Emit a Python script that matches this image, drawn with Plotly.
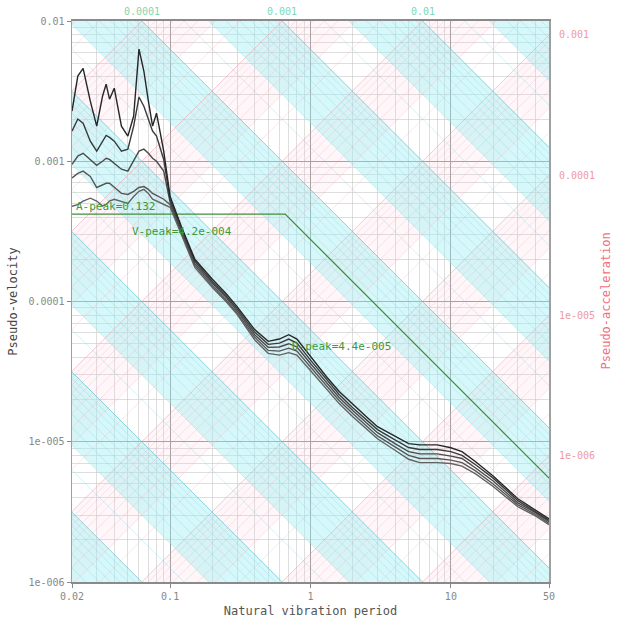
import numpy as np
import plotly.graph_objects as go

# ---------------- data ----------------
periods = [0.02, 0.022, 0.024, 0.027, 0.03, 0.033, 0.035, 0.037, 0.04, 0.045, 0.05, 0.055, 0.06, 0.065,
           0.07, 0.075, 0.08, 0.09, 0.1,
           0.12, 0.15, 0.2, 0.25, 0.3, 0.4, 0.5, 0.6, 0.7, 0.8, 1, 1.3, 1.6, 2, 2.5, 3, 4, 5, 6, 7, 8,
           10, 12, 15, 20, 30, 40, 50]

psv_1 = [2.28e-3, 4.05e-3, 4.6e-3, 2.68e-3, 1.78e-3, 2.91e-3, 3.55e-3, 2.77e-3, 3.32e-3, 1.78e-3, 1.51e-3,
         2.1e-3, 6.3e-3, 4.4e-3, 2.68e-3, 1.78e-3, 2.2e-3, 1.18e-3, 5.6e-4,
         3.44e-4, 2.0e-4, 1.44e-4, 1.14e-4, 9.2e-5, 6.3e-5, 5.2e-5, 5.4e-5, 5.8e-5, 5.4e-5, 4.05e-5, 2.91e-5,
         2.28e-5, 1.84e-5, 1.51e-5, 1.28e-5, 1.09e-5, 9.7e-6, 9.5e-6, 9.5e-6, 9.5e-6, 9.06e-6, 8.5e-6, 7.2e-6,
         5.7e-6, 3.92e-6, 3.27e-6, 2.82e-6]
psv_2 = [1.64e-3, 2.0e-3, 1.87e-3, 1.39e-3, 1.18e-3, 1.39e-3, 1.53e-3, 1.48e-3, 1.39e-3, 1.18e-3, 1.22e-3,
         1.78e-3, 2.87e-3, 2.47e-3, 2.03e-3, 1.64e-3, 1.51e-3, 1.03e-3, 5.3e-4,
         3.33e-4, 1.94e-4, 1.39e-4, 1.10e-4, 8.9e-5, 6.05e-5, 4.95e-5, 5.05e-5, 5.39e-5, 5.05e-5, 3.82e-5,
         2.77e-5, 2.17e-5, 1.75e-5, 1.44e-5, 1.22e-5, 1.03e-5, 9.1e-6, 8.8e-6, 8.8e-6, 8.8e-6, 8.5e-6, 8.0e-6,
         6.85e-6, 5.5e-6, 3.8e-6, 3.19e-6, 2.75e-6]
psv_3 = [9.5e-4, 1.09e-3, 1.14e-3, 1.03e-3, 9.36e-4, 1.0e-3, 1.05e-3, 1.03e-3, 9.7e-4, 8.77e-4, 8.5e-4,
         1.0e-3, 1.18e-3, 1.22e-3, 1.14e-3, 1.05e-3, 1.0e-3, 8.5e-4, 5.1e-4,
         3.22e-4, 1.87e-4, 1.35e-4, 1.07e-4, 8.6e-5, 5.8e-5, 4.71e-5, 4.74e-5, 5.0e-5, 4.74e-5, 3.61e-5,
         2.64e-5, 2.07e-5, 1.67e-5, 1.37e-5, 1.16e-5, 9.7e-6, 8.5e-6, 8.2e-6, 8.2e-6, 8.2e-6, 7.9e-6, 7.6e-6,
         6.5e-6, 5.25e-6, 3.67e-6, 3.12e-6, 2.69e-6]
psv_4 = [7.6e-4, 8.2e-4, 8.5e-4, 7.8e-4, 6.5e-4, 6.74e-4, 6.97e-4, 6.97e-4, 6.5e-4, 5.9e-4, 5.8e-4,
         6.1e-4, 6.5e-4, 6.6e-4, 6.3e-4, 5.9e-4, 5.7e-4, 5.36e-4, 4.9e-4,
         3.12e-4, 1.81e-4, 1.30e-4, 1.03e-4, 8.3e-5, 5.57e-5, 4.48e-5, 4.43e-5, 4.65e-5, 4.43e-5, 3.41e-5,
         2.51e-5, 1.97e-5, 1.59e-5, 1.30e-5, 1.10e-5, 9.2e-6, 8.0e-6, 7.6e-6, 7.6e-6, 7.6e-6, 7.4e-6, 7.1e-6,
         6.2e-6, 5.0e-6, 3.55e-6, 3.04e-6, 2.62e-6]
psv_5 = [4.77e-4, 4.9e-4, 5.2e-4, 5.45e-4, 5.2e-4, 4.8e-4, 4.9e-4, 5.2e-4, 5.36e-4, 5.2e-4, 5.0e-4,
         5.6e-4, 6.1e-4, 6.3e-4, 5.9e-4, 5.36e-4, 5.2e-4, 4.9e-4, 4.7e-4,
         3.02e-4, 1.75e-4, 1.26e-4, 1.0e-4, 8.1e-5, 5.34e-5, 4.27e-5, 4.15e-5, 4.32e-5, 4.15e-5, 3.22e-5,
         2.39e-5, 1.87e-5, 1.51e-5, 1.24e-5, 1.05e-5, 8.7e-6, 7.5e-6, 7.1e-6, 7.1e-6, 7.1e-6, 7.0e-6, 6.7e-6,
         5.9e-6, 4.8e-6, 3.44e-6, 2.96e-6, 2.56e-6]
curves = [psv_1, psv_2, psv_3, psv_4, psv_5]
curve_colors = ["#262626", "#3a3a3a", "#4a4a4a", "#575757", "#626262"]

# design (peak) envelope
env_T = [0.02, 0.66, 50]
env_V = [4.2e-4, 4.2e-4, 5.5e-6]
env_labels = ["A-peak=0.132", "V-peak=4.2e-004", "D-peak=4.4e-005"]
env_label_T = [0.0205, 0.052, 0.72]
env_label_V = [4.75e-4, 3.16e-4, 4.8e-5]

x_ticks = [0.02, 0.1, 1, 10, 50]
x_ticktext = ["0.02", "0.1", "1", "10", "50"]
y_ticks = [1e-6, 1e-5, 1e-4, 1e-3, 1e-2]
y_ticktext = ["1e-006", "1e-005", "0.0001", "0.001", "0.01"]
disp_labels = [1e-4, 1e-3, 1e-2]          # displacement lines labelled at top
acc_labels = [1e-3, 1e-4, 1e-5, 1e-6]     # acceleration lines labelled at right
acc_ticktext = ["0.001", "0.0001", "1e-005", "1e-006"]

T_MIN, T_MAX = 0.02, 50
TWO_PI = 2 * np.pi
Tg = [0.003, 300]

fig = go.Figure()

# --------------- background bands ---------------
def band_xy(kind, lo, hi):
    xs, ys = [], []
    for T in Tg:
        xs.append(T); ys.append(TWO_PI * hi / T if kind == "D" else hi * T / TWO_PI)
    for T in Tg[::-1]:
        xs.append(T); ys.append(TWO_PI * lo / T if kind == "D" else lo * T / TWO_PI)
    xs.append(xs[0]); ys.append(ys[0])
    return xs, ys

bx, by = [], []
for n in range(-10, 2):
    xs, ys = band_xy("A", 0.3 * 10.0 ** n, 10.0 ** n)
    bx += xs + [None]; by += ys + [None]
fig.add_trace(go.Scatter(x=bx, y=by, fill="toself", mode="none",
                         fillcolor="rgba(250,200,210,0.16)", hoverinfo="skip", showlegend=False))
bx, by = [], []
for n in range(-10, 0):
    xs, ys = band_xy("D", 0.3 * 10.0 ** n, 10.0 ** n)
    bx += xs + [None]; by += ys + [None]
fig.add_trace(go.Scatter(x=bx, y=by, fill="toself", mode="none",
                         fillcolor="rgba(160,238,242,0.42)", hoverinfo="skip", showlegend=False))

# --------------- diagonal grid ---------------
def diag(kind, vals):
    xs, ys = [], []
    for v in vals:
        for T in Tg:
            xs.append(T); ys.append(TWO_PI * v / T if kind == "D" else v * T / TWO_PI)
        xs.append(None); ys.append(None)
    return xs, ys

minor_D = [k * 10.0 ** n for n in range(-10, 0) for k in range(2, 10)]
major_D = [10.0 ** n for n in range(-10, 0)]
minor_A = [k * 10.0 ** n for n in range(-10, 2) for k in range(2, 10)]
major_A = [10.0 ** n for n in range(-10, 2)]

for kind, vals, col, w in [("A", minor_A, "rgba(240,170,185,0.40)", 0.7),
                           ("D", minor_D, "rgba(110,205,215,0.40)", 0.7),
                           ("A", major_A, "rgba(235,160,175,0.55)", 1),
                           ("D", major_D, "rgba(90,190,200,0.65)", 1)]:
    xs, ys = diag(kind, vals)
    fig.add_trace(go.Scatter(x=xs, y=ys, mode="lines", line=dict(color=col, width=w),
                             hoverinfo="skip", showlegend=False))

# --------------- envelope ---------------
fig.add_trace(go.Scatter(x=env_T, y=env_V, mode="lines", line=dict(color="#3f8f3f", width=1.3),
                         showlegend=False))

# --------------- spectra ---------------
for vals, col in zip(curves[::-1], curve_colors[::-1]):
    fig.add_trace(go.Scatter(x=periods, y=vals, mode="lines", line=dict(color=col, width=1.4),
                             showlegend=False))

# --------------- annotations ---------------
ann = []
for txt, T, V in zip(env_labels, env_label_T, env_label_V):
    ann.append(dict(x=np.log10(T), y=np.log10(V), xref="x", yref="y", text=txt, showarrow=False,
                    xanchor="left", yanchor="middle",
                    font=dict(family="DejaVu Sans Mono", size=11, color="#3a9a3a")))
for D in disp_labels:
    ann.append(dict(x=np.log10(TWO_PI * D / 1e-2), y=1, xref="x", yref="paper", yshift=10,
                    text=("%g" % D), showarrow=False, xanchor="center", yanchor="middle",
                    font=dict(family="DejaVu Sans Mono", size=10, color="#7fd6b0")))
for A, txt in zip(acc_labels, acc_ticktext):
    ann.append(dict(x=1, y=np.log10(A * T_MAX / TWO_PI), xref="paper", yref="y", xshift=8,
                    text=txt, showarrow=False, xanchor="left", yanchor="middle",
                    font=dict(family="DejaVu Sans Mono", size=10, color="#f09aa0")))
ann.append(dict(x=1, y=0.5, xref="paper", yref="paper", xshift=56, text="Pseudo-acceleration",
                textangle=-90, showarrow=False, xanchor="center", yanchor="middle",
                font=dict(family="DejaVu Sans Mono", size=12, color="#f07080")))

minor_x = [k * 10.0 ** n for n in range(-2, 2) for k in range(2, 10) if T_MIN < k * 10.0 ** n < T_MAX]
minor_y = [k * 10.0 ** n for n in range(-6, -2) for k in range(2, 10)]

fig.update_layout(
    width=624, height=623,
    margin=dict(l=72, r=75, t=21, b=41, autoexpand=False),
    paper_bgcolor="white", plot_bgcolor="white",
    annotations=ann,
    xaxis=dict(type="log", range=[np.log10(T_MIN), np.log10(T_MAX)], automargin=False,
               tickvals=x_ticks, ticktext=x_ticktext,
               tickfont=dict(family="DejaVu Sans Mono", size=10, color="#888888"),
               ticks="outside", ticklen=4, tickcolor="#888888",
               showgrid=True, gridcolor="#9a9a9a", gridwidth=1,
               minor=dict(tickvals=minor_x, showgrid=True, gridcolor="rgba(190,190,190,0.5)", ticks=""),
               showline=True, linecolor="#8a8a8a", linewidth=2, mirror=True,
               title=dict(text="Natural vibration period", standoff=6,
                          font=dict(family="DejaVu Sans Mono", size=12, color="#555555")),
               zeroline=False),
    yaxis=dict(type="log", range=[-6, -2], automargin=False,
               tickvals=y_ticks, ticktext=y_ticktext,
               tickfont=dict(family="DejaVu Sans Mono", size=10, color="#888888"),
               ticks="outside", ticklen=4, tickcolor="#888888",
               showgrid=True, gridcolor="#9a9a9a", gridwidth=1,
               minor=dict(tickvals=minor_y, showgrid=True, gridcolor="rgba(190,190,190,0.5)", ticks=""),
               showline=True, linecolor="#a0a0a0", linewidth=1.5, mirror=True,
               title=dict(text="Pseudo-velocity", standoff=8,
                          font=dict(family="DejaVu Sans Mono", size=12, color="#444444")),
               zeroline=False),
)

fig.write_html("out.html", config={"displayModeBar": False, "staticPlot": True})

# remove the browser's default page margin so the figure sits at the window origin
with open("out.html", "r", encoding="utf-8") as f:
    html = f.read()
html = html.replace("<head>", "<head><style>html,body{margin:0;padding:0;overflow:hidden;}</style>", 1)
with open("out.html", "w", encoding="utf-8") as f:
    f.write(html)
